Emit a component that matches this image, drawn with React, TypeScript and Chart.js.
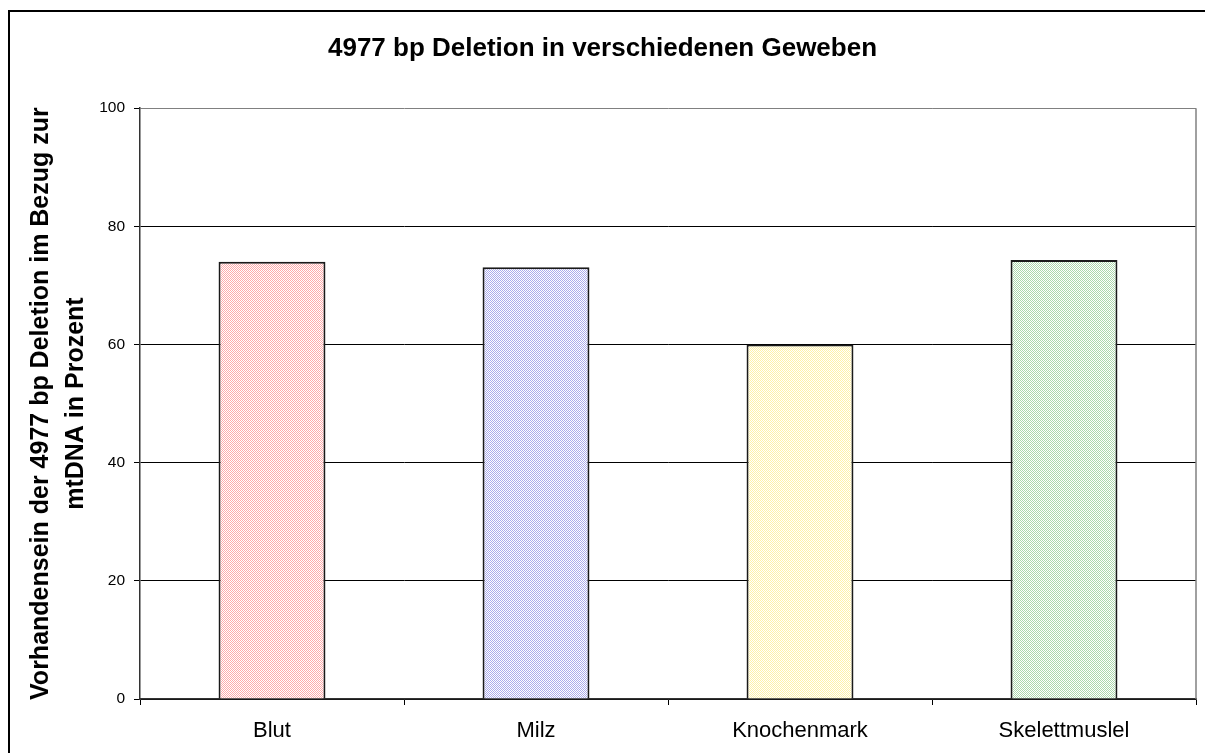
import React, { useEffect, useRef } from "react";
import { Chart, registerables } from "chart.js";

Chart.register(...registerables);

const categories = ["Blut", "Milz", "Knochenmark", "Skelettmuslel"];
const values = [74, 73.1, 60, 74.3];
const dotColors = ["#ffaaaa", "#acacec", "#fff2a8", "#acd8ac"];
const titleText = "4977 bp Deletion in verschiedenen Geweben";
const yTitleLines = ["Vorhandensein der 4977 bp Deletion im Bezug zur", "mtDNA in Prozent"];
const yMin = 0;
const yMax = 100;
const yStep = 20;

const FONT = "'Liberation Sans', Arial, sans-serif";

function makePattern(color: string): CanvasPattern | string {
  const c = document.createElement("canvas");
  c.width = 4;
  c.height = 4;
  const g = c.getContext("2d");
  if (!g) return color;
  g.fillStyle = "#ffffff";
  g.fillRect(0, 0, 4, 4);
  g.fillStyle = color;
  for (let y = 0; y < 4; y++) {
    for (let x = 0; x < 4; x++) {
      if ((x + y) % 2 === 0) g.fillRect(x, y, 1, 1);
    }
  }
  const p = g.createPattern(c, "repeat");
  return p || color;
}

const plotBorder = {
  id: "plotBorder",
  beforeDatasetsDraw(chart: any) {
    const { ctx, chartArea } = chart;
    ctx.save();
    ctx.strokeStyle = "#808080";
    ctx.lineWidth = 1.5;
    ctx.beginPath();
    ctx.moveTo(chartArea.right, chartArea.top);
    ctx.lineTo(chartArea.right, chartArea.bottom);
    ctx.stroke();
    ctx.restore();
  },
};

export default function App() {
  const ref = useRef<HTMLCanvasElement | null>(null);

  useEffect(() => {
    if (!ref.current) return;
    Chart.defaults.font.family = FONT;
    Chart.defaults.color = "#000";
    const chart = new Chart(ref.current, {
      type: "bar",
      data: {
        labels: categories,
        datasets: [
          {
            data: values,
            backgroundColor: dotColors.map(makePattern) as any,
            borderColor: "#1a1a1a",
            borderWidth: 2,
            categoryPercentage: 1,
            barPercentage: 0.405,
          },
        ],
      },
      options: {
        animation: false,
        responsive: false,
        maintainAspectRatio: false,
        layout: { padding: { left: 9, right: 9, top: 0, bottom: 0 } },
        plugins: {
          legend: { display: false },
          tooltip: { enabled: false },
          title: {
            display: true,
            text: titleText,
            color: "#000",
            font: { size: 26, weight: "bold", family: FONT, lineHeight: 1.2 },
            padding: { top: 33, bottom: 44 },
          },
        },
        scales: {
          x: {
            grid: {
              display: true,
              drawOnChartArea: false,
              drawTicks: true,
              tickLength: 6,
              color: "#000",
              offset: true,
            },
            border: { display: true, color: "#333", width: 1.5 },
            ticks: {
              color: "#000",
              font: { size: 22, family: FONT },
              padding: 13,
              maxRotation: 0,
            },
            afterFit(scale: any) {
              scale.height = 54;
            },
          },
          y: {
            min: yMin,
            max: yMax,
            ticks: {
              stepSize: yStep,
              color: "#000",
              font: { size: 15.5, family: FONT },
              padding: 9,
            },
            grid: {
              color: (c: any) => (c.tick && c.tick.value === yMax ? "#808080" : "#000"),
              tickColor: "#000",
              lineWidth: 1,
              tickLength: 6,
            },
            border: { display: true, color: "#333", width: 1.5 },
            title: {
              display: true,
              text: yTitleLines,
              color: "#000",
              font: { size: 25, weight: "bold", family: FONT, lineHeight: 35 / 25 },
              padding: { top: 15, bottom: 0 },
            },
            afterFit(scale: any) {
              scale.width = 131;
            },
          },
        },
      },
      plugins: [plotBorder],
    });
    return () => chart.destroy();
  }, []);

  return (
    <div
      style={{
        position: "fixed",
        left: 0,
        top: 0,
        width: 1205,
        height: 753,
        overflow: "hidden",
        background: "#fff",
      }}
    >
      <canvas ref={ref} width={1205} height={753} style={{ position: "absolute", left: 0, top: 0, width: 1205, height: 753 }} />
      <div
        style={{
          position: "absolute",
          left: 8,
          top: 10,
          width: 1250,
          height: 800,
          border: "2px solid #000",
          pointerEvents: "none",
        }}
      />
    </div>
  );
}
